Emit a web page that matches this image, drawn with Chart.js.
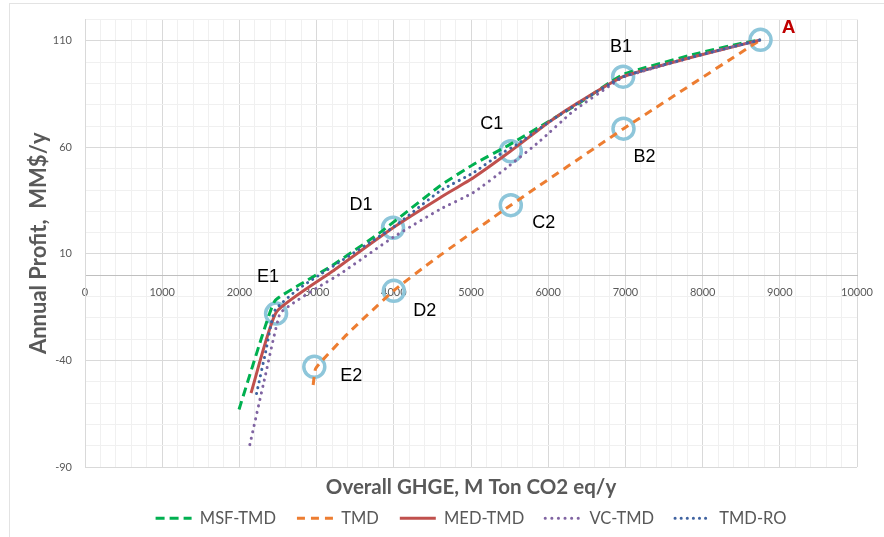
<!DOCTYPE html>
<html>
<head>
<meta charset="utf-8">
<script src="https://cdn.jsdelivr.net/npm/chart.js@4"></script>
<style>
  html, body { margin: 0; padding: 0; background: #fff; }
  #wrap { width: 884px; height: 537px; position: relative; }
</style>
</head>
<body>
<div id="wrap"><canvas id="chart"></canvas></div>
<script>
// Pareto fronts: annual profit vs. overall greenhouse-gas emissions
const seriesNames = ['MSF-TMD', 'TMD', 'MED-TMD', 'VC-TMD', 'TMD-RO'];

const msfTmdX = [1995, 2290, 2460, 2800, 3200, 3820, 4600, 5030, 5500, 6020, 6410, 6970, 7960, 8480, 8750];
const msfTmdY = [-63, -29, -12, -4, 4.5, 20, 42, 52, 61.3, 72.5, 81, 94.2, 104.4, 108.7, 110.5];

const tmdX = [2955, 2985, 3060, 3400, 4000, 4510, 5515, 6975, 8750];
const tmdY = [-51.5, -44, -40.5, -27.5, -7.2, 7, 32.9, 68.8, 110.5];

const medTmdX = [2150, 2480, 3210, 3990, 4600, 5030, 5510, 6020, 6410, 6970, 7960, 8750];
const medTmdY = [-55.3, -17.2, 2, 22.3, 36.4, 45.8, 58.2, 72.2, 81.5, 93.2, 103.3, 110.5];

const vcTmdX = [2135, 2330, 2525, 2700, 3000, 3300, 3990, 4600, 5030, 5460, 5890, 6320, 6840, 6970, 7960, 8750];
const vcTmdY = [-79.5, -48, -18, -13, -6, 0.5, 17.8, 31, 38.8, 50.4, 62.9, 76.9, 90, 93, 103.3, 110.5];

const tmdRoX = [2222, 2340, 2460, 2780, 3990, 4600, 5030, 5370, 5590, 6020, 6410, 6970, 7960, 8750];
const tmdRoY = [-55.5, -36, -16.5, -6, 22.5, 39.6, 48.1, 56.7, 61.3, 72.2, 81.3, 93.2, 103.3, 110.5];

// Highlighted design points
const markerNames = ['A', 'B1', 'B2', 'C1', 'C2', 'D1', 'D2', 'E1', 'E2'];
const markerX = [8750, 6970, 6975, 5515, 5515, 3990, 4000, 2475, 2970];
const markerY = [110.5, 93.2, 68.8, 58.2, 32.9, 22.3, -7.3, -18, -43];

// Axis ticks
const xMajorTicks = [0, 1000, 2000, 3000, 4000, 5000, 6000, 7000, 8000, 9000, 10000];
const yMajorTicks = [-90, -40, 10, 60, 110];

// ---- styling ----
const seriesStyles = [
  { color: '#00B050', dash: [9, 5], cap: 'butt' },
  { color: '#ED7D31', dash: [8, 6], cap: 'butt' },
  { color: '#C0504D', dash: [], cap: 'butt' },
  { color: '#8064A2', dash: [0.1, 6.5], cap: 'round' },
  { color: '#3F62A0', dash: [0.1, 6], cap: 'round' }
];
// label offsets (px) relative to each marker centre
const labelOffsets = [[28, -12], [-2, -30], [21, 28], [-19, -27], [33, 18], [-32, -23], [31, 20], [-8, -37], [37, 9]];

const toPoints = (xs, ys) => xs.map((x, i) => ({ x: x, y: ys[i] }));
const seriesData = [
  toPoints(msfTmdX, msfTmdY),
  toPoints(tmdX, tmdY),
  toPoints(medTmdX, medTmdY),
  toPoints(vcTmdX, vcTmdY),
  toPoints(tmdRoX, tmdRoY)
];

const datasets = seriesNames.map((name, i) => ({
  label: name,
  data: seriesData[i],
  borderColor: seriesStyles[i].color,
  backgroundColor: seriesStyles[i].color,
  borderDash: seriesStyles[i].dash,
  borderCapStyle: seriesStyles[i].cap,
  borderWidth: 3,
  pointRadius: 0,
  pointHoverRadius: 0,
  tension: 0.15,
  fill: false,
  order: 10 - i
}));

datasets.push({
  label: 'markers',
  data: toPoints(markerX, markerY),
  showLine: false,
  pointRadius: 10.5,
  pointBorderWidth: 3.5,
  pointBorderColor: '#8EC6DA',
  pointBackgroundColor: 'rgba(0,0,0,0)',
  order: 100
});

const GRID_MAJOR = '#d9d9d9';
const GRID_MINOR = '#f0f0f0';
const TEXT = '#595959';

const framePlugin = {
  id: 'frame',
  beforeDraw(chart) {
    const ctx = chart.ctx;
    ctx.save();
    ctx.fillStyle = '#fff';
    ctx.fillRect(0, 0, chart.width, chart.height);
    ctx.strokeStyle = '#e3e3e3';
    ctx.lineWidth = 1;
    ctx.strokeRect(9.5, 3.5, chart.width + 20, chart.height + 20);
    ctx.restore();
  }
};

const markerLabelPlugin = {
  id: 'markerLabels',
  afterDatasetsDraw(chart) {
    const ctx = chart.ctx;
    const xs = chart.scales.x, ys = chart.scales.y;
    ctx.save();
    ctx.textAlign = 'center';
    ctx.textBaseline = 'middle';
    markerNames.forEach((name, i) => {
      const px = xs.getPixelForValue(markerX[i]) + labelOffsets[i][0];
      const py = ys.getPixelForValue(markerY[i]) + labelOffsets[i][1];
      if (name === 'A') {
        ctx.font = 'bold 19px "Liberation Sans", Arial, sans-serif';
        ctx.fillStyle = '#C00000';
      } else {
        ctx.font = '18px "Liberation Sans", Arial, sans-serif';
        ctx.fillStyle = '#000';
      }
      ctx.fillText(name, px, py);
    });
    ctx.restore();
  }
};

new Chart(document.getElementById('chart'), {
  type: 'line',
  data: { datasets },
  plugins: [framePlugin, markerLabelPlugin],
  options: {
    responsive: true,
    maintainAspectRatio: false,
    animation: false,
    devicePixelRatio: 1,
    layout: { padding: { left: 10, right: 26.5, top: 18, bottom: 0.5 } },
    scales: {
      x: {
        type: 'linear',
        position: { y: 0 },
        min: 0,
        max: 10000,
        ticks: {
          stepSize: 200,
          autoSkip: false,
          maxRotation: 0,
          padding: 11,
          color: TEXT,
          font: { family: 'Lato', size: 11 },
          callback: v => (xMajorTicks.includes(v) ? String(v) : '')
        },
        grid: {
          drawTicks: false,
          color: c => (c.tick && xMajorTicks.includes(c.tick.value) ? GRID_MAJOR : GRID_MINOR)
        },
        border: { display: true, color: '#bfbfbf', width: 1 }
      },
      xTitle: {
        type: 'linear',
        axis: 'x',
        position: 'bottom',
        min: 0,
        max: 1,
        ticks: { display: false },
        grid: { display: false, drawTicks: false },
        border: { display: false },
        title: {
          display: true,
          text: 'Overall GHGE, M Ton CO2 eq/y',
          color: TEXT,
          font: { family: 'Lato', size: 20.5, weight: 'bold' },
          padding: { top: 0, bottom: -11 }
        },
        afterFit(scale) { scale.height = 22; }
      },
      y: {
        type: 'linear',
        position: 'left',
        min: -90,
        max: 120,
        ticks: {
          stepSize: 10,
          autoSkip: false,
          padding: 13,
          color: TEXT,
          font: { family: 'Lato', size: 11 },
          callback: v => (yMajorTicks.includes(v) ? String(v) : '')
        },
        grid: {
          drawTicks: false,
          color: c => (c.tick && yMajorTicks.includes(c.tick.value) ? GRID_MAJOR : GRID_MINOR)
        },
        border: { display: true, color: GRID_MAJOR },
        title: {
          display: true,
          text: 'Annual Profit,  MM$/y',
          color: TEXT,
          font: { family: 'Lato', size: 22, weight: 'bold' },
          padding: { top: 16, bottom: 0 }
        },
        afterFit(scale) { scale.width = 75; }
      }
    },
    plugins: {
      tooltip: { enabled: false },
      legend: {
        position: 'bottom',
        fullSize: false,
        labels: {
          usePointStyle: true,
          pointStyle: 'line',
          pointStyleWidth: 36,
          padding: 21,
          color: TEXT,
          font: { family: 'Lato', size: 16.5 },
          generateLabels: () => seriesNames.map((name, i) => ({
            text: name,
            datasetIndex: i,
            hidden: false,
            fontColor: TEXT,
            fillStyle: seriesStyles[i].color,
            strokeStyle: seriesStyles[i].color,
            lineWidth: 3,
            lineDash: seriesStyles[i].dash,
            lineCap: seriesStyles[i].cap,
            pointStyle: 'line'
          }))
        }
      }
    }
  }
});
</script>
</body>
</html>
